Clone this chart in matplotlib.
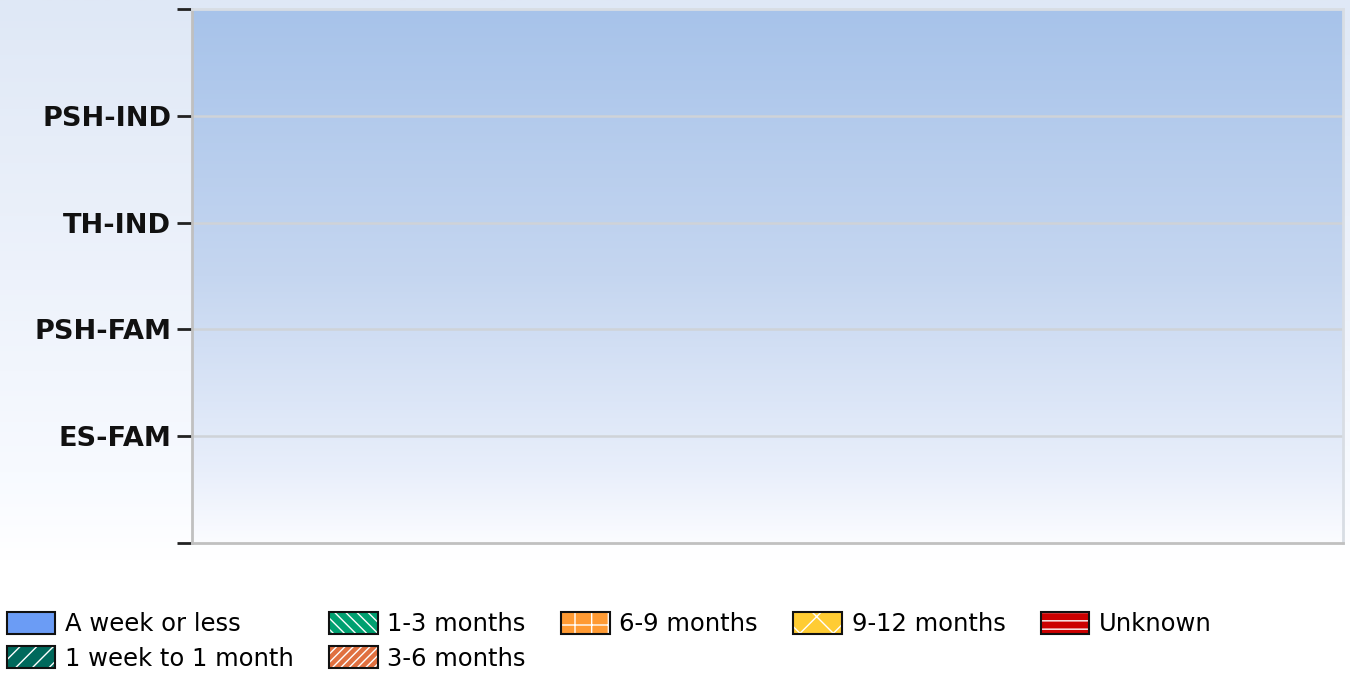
import numpy as np
import matplotlib.pyplot as plt
from matplotlib.patches import Patch
from matplotlib.colors import LinearSegmentedColormap

# Programs (bottom to top) and length-of-stay buckets
categories = ['ES-FAM', 'PSH-FAM', 'TH-IND', 'PSH-IND']
series_names = ['A week or less', '1 week to 1 month', '1-3 months', '3-6 months',
                '6-9 months', '9-12 months', 'Unknown']
# No clients recorded in any bucket
week_or_less = [0, 0, 0, 0]
week_to_month = [0, 0, 0, 0]
one_to_three = [0, 0, 0, 0]
three_to_six = [0, 0, 0, 0]
six_to_nine = [0, 0, 0, 0]
nine_to_twelve = [0, 0, 0, 0]
unknown = [0, 0, 0, 0]

fills = ['#6b9cf5', '#00695c', '#00a070', '#e07040', '#ff9a33', '#ffcc33', '#cc0000']
hatches = [None, '//', '\\\\\\', '////', '+', 'x', '--']

fig = plt.figure(figsize=(13.5, 6.75), dpi=100)

# soft blue-to-white backdrop behind everything
bg = fig.add_axes([0, 0, 1, 1], zorder=-2)
bg_cmap = LinearSegmentedColormap.from_list(
    'bg', [(0, '#dfe8f6'), (0.4, '#edf2fb'), (0.7, '#f7faff'), (0.83, '#ffffff'), (1, '#ffffff')])
grad = np.linspace(0, 1, 256).reshape(-1, 1)
bg.imshow(grad, aspect='auto', cmap=bg_cmap, extent=[0, 1, 0, 1], origin='upper')
bg.axis('off')

ax = fig.add_axes([0.1422, 0.1956, 0.8526, 0.7911])
pa_cmap = LinearSegmentedColormap.from_list(
    'pa', [(0, '#a7c3ea'), (0.5, '#c5d6f0'), (0.87, '#e9effb'), (1, '#fbfcff')])
ax.imshow(np.linspace(0, 1, 256).reshape(-1, 1), aspect='auto', cmap=pa_cmap,
          extent=[0, 1, 0, 5], origin='upper', zorder=0)

y = np.arange(1, len(categories) + 1)
left = np.zeros(len(categories))
all_series = [week_or_less, week_to_month, one_to_three, three_to_six,
              six_to_nine, nine_to_twelve, unknown]
for vals, c, h in zip(all_series, fills, hatches):
    ax.barh(y, vals, left=left, height=0.6, color=c, hatch=h, linewidth=0, zorder=3)
    left += np.array(vals)

ax.set_xlim(0, 1)
ax.set_ylim(0, 5)
ax.set_yticks(range(6))
ax.set_yticklabels([''] + categories + [''], fontsize=19.5, fontweight='bold', color='#111111')
ax.tick_params(axis='y', length=11, width=2, color='#222222', pad=4)
ax.set_xticks([])
for yy in y:
    ax.axhline(yy, color='#cfd3d8', linewidth=1.8, zorder=2)
for side in ['left', 'bottom']:
    ax.spines[side].set_color('#c0c0c0')
    ax.spines[side].set_linewidth(2)
for side in ['top', 'right']:
    ax.spines[side].set_color('#d8dde4')
    ax.spines[side].set_linewidth(2)

# legend swatches: white hatching over the fill, black outline on top
handles = []
for c, h in zip(fills, hatches):
    body = Patch(facecolor=c, edgecolor='white', hatch=h, linewidth=0)
    outline = Patch(facecolor='none', edgecolor='#111111', linewidth=1.5)
    handles.append((body, outline))

fig.legend(handles, series_names, ncols=5, loc='upper left',
           bbox_to_anchor=(0.005, 1 - 612 / 675), frameon=False,
           fontsize=17.5, handlelength=2.0, handleheight=1.0, handletextpad=0.4,
           columnspacing=1.45, labelspacing=0.42, borderpad=0, borderaxespad=0)

plt.savefig('out.png', dpi=100)
plt.close()
